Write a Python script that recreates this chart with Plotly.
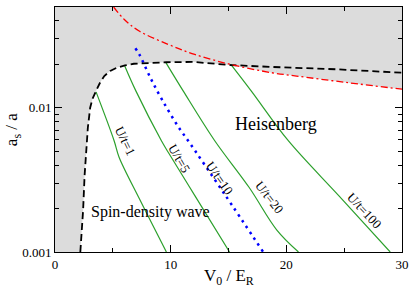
import numpy as np
import plotly.graph_objects as go

# ---- data ----
# black dashed boundary of shaded region
bnd_v0 = [2.19, 2.43, 2.56, 2.73, 2.84, 3.04, 3.24, 3.55, 3.88, 4.26, 4.77, 5.37, 6.05, 6.82, 8.10, 9.63, 11.93, 15.17, 18.75, 20.88, 24.29, 30.0]
bnd_as = [0.00100, 0.00195, 0.0034, 0.00591, 0.00728, 0.0100, 0.01153, 0.0131, 0.01486, 0.0166, 0.0180, 0.0190, 0.0197, 0.0202, 0.0205, 0.0207, 0.0208, 0.0198, 0.0192, 0.0189, 0.0185, 0.0175]

# red dash-dot curve
red_v0 = [5.07, 5.97, 7.24, 9.80, 12.08, 15.17, 18.75, 20.88, 25.14, 30.0]
red_as = [0.0500, 0.0411, 0.0342, 0.0275, 0.02344, 0.0200, 0.0175, 0.0166, 0.0150, 0.01346]

# blue dotted line
blue_v0 = [6.95, 7.30, 8.24, 9.23, 10.65, 11.51, 14.63, 18.0]
blue_as = [0.0259, 0.0234, 0.0162, 0.01148, 0.0074, 0.00591, 0.00254, 0.00100]

# green lines of constant U/t
u1_v0 = [3.55, 5.11, 5.54, 7.33, 9.63]
u1_as = [0.01289, 0.00591, 0.00454, 0.00231, 0.00100]
u5_v0 = [6.03, 6.99, 9.20, 9.80, 12.13, 15.09]
u5_as = [0.0195, 0.0131, 0.00591, 0.0049, 0.00243, 0.00100]
u20_v0 = [9.60, 11.08, 13.81, 16.79, 19.18, 21.05]
u20_as = [0.0205, 0.0131, 0.00591, 0.0028, 0.00142, 0.00100]
u100_v0 = [15.20, 16.96, 20.17, 24.57, 28.98]
u100_as = [0.0200, 0.0131, 0.00591, 0.00244, 0.00100]

# line labels
lab_text = ["U/t=1", "U/t=5", "U/t=10", "U/t=20", "U/t=100"]
lab_v0 = [6.05, 10.75, 14.25, 18.55, 26.75]
lab_as = [0.00591, 0.00445, 0.00324, 0.00239, 0.00195]
lab_angle = [64, 60, 55, 52, 47]

x_ticks = [0, 10, 20, 30]
x_minor = [5, 15, 25]
y_ticks = [0.001, 0.01, 0.05]
y_ticktext = ["0.001", "0.01", ".05"]
y_minor = [0.002, 0.003, 0.004, 0.005, 0.006, 0.007, 0.008, 0.009, 0.02, 0.03, 0.04]

SERIF = "Liberation Serif"
GREEN = "#2ca02c"

# shaded region: above the lower of the black and red curves
bv = np.array(bnd_v0); ba = np.array(bnd_as)
rv = np.array(red_v0); ra = np.array(red_as)
cross = 15.17
poly_x = list(bv[bv <= cross]) + list(rv[rv > cross]) + [30, 0, 0]
poly_y = list(ba[bv <= cross]) + list(ra[rv > cross]) + [0.05, 0.05, 0.001]

fig = go.Figure()
fig.add_trace(go.Scatter(x=poly_x, y=poly_y, fill="toself", fillcolor="#dcdcdc",
                         line=dict(width=0), mode="lines", hoverinfo="skip"))
for xv, yv in [(u1_v0, u1_as), (u5_v0, u5_as), (u20_v0, u20_as), (u100_v0, u100_as)]:
    fig.add_trace(go.Scatter(x=xv, y=yv, mode="lines", line=dict(color=GREEN, width=1.2, shape="spline")))
fig.add_trace(go.Scatter(x=blue_v0, y=blue_as, mode="lines",
                         line=dict(color="#0000ff", width=2.5, dash="2.5px,4.5px", shape="spline")))
fig.add_trace(go.Scatter(x=bnd_v0, y=bnd_as, mode="lines",
                         line=dict(color="black", width=1.8, dash="7px,4px")))
fig.add_trace(go.Scatter(x=red_v0, y=red_as, mode="lines",
                         line=dict(color="#ff0000", width=1.3, dash="7px,3px,2px,3px", shape="spline")))

ann = []
for t, xv, yv, a in zip(lab_text, lab_v0, lab_as, lab_angle):
    ann.append(dict(x=xv, y=np.log10(yv), xref="x", yref="y", text=t, showarrow=False,
                    textangle=a, font=dict(family=SERIF, size=13, color="black")))
ann.append(dict(x=19.1, y=np.log10(0.00776), xref="x", yref="y", text="Heisenberg", showarrow=False,
                font=dict(family=SERIF, size=18, color="black")))
ann.append(dict(x=8.25, y=np.log10(0.00189), xref="x", yref="y", text="Spin-density wave", showarrow=False,
                font=dict(family=SERIF, size=16, color="black")))
ann.append(dict(x=0.5, y=-0.102, xref="paper", yref="paper", text="V<sub>0</sub> / E<sub>R</sub>",
                showarrow=False, yanchor="middle", font=dict(family=SERIF, size=17, color="black")))
ann.append(dict(x=-0.122, y=0.5, xref="paper", yref="paper", text="a<sub>s</sub> / a", textangle=-90,
                showarrow=False, xanchor="center", font=dict(family=SERIF, size=17, color="black")))

fig.update_layout(
    width=415, height=288, margin=dict(l=55, r=8, t=6, b=36),
    paper_bgcolor="white", plot_bgcolor="white", showlegend=False,
    font=dict(family=SERIF, color="black"),
    annotations=ann,
    xaxis=dict(range=[0, 30], tickvals=x_ticks, ticks="inside", ticklen=7, tickcolor="black",
               showline=True, linecolor="black", linewidth=1, mirror="ticks", showgrid=False, zeroline=False,
               tickfont=dict(family=SERIF, size=13, color="black"),
               minor=dict(tickvals=x_minor, ticks="inside", ticklen=4, tickcolor="black")),
    yaxis=dict(type="log", range=[-3, np.log10(0.05)], tickvals=y_ticks, ticktext=y_ticktext,
               ticks="inside", ticklen=7, tickcolor="black",
               showline=True, linecolor="black", linewidth=1, mirror="ticks", showgrid=False, zeroline=False,
               tickfont=dict(family=SERIF, size=13, color="black"),
               minor=dict(tickvals=y_minor, ticks="inside", ticklen=4, tickcolor="black")),
)
fig.write_html("out.html", config={"displayModeBar": False},
               post_script="document.body.style.margin='0px';document.body.style.overflow='hidden';")
